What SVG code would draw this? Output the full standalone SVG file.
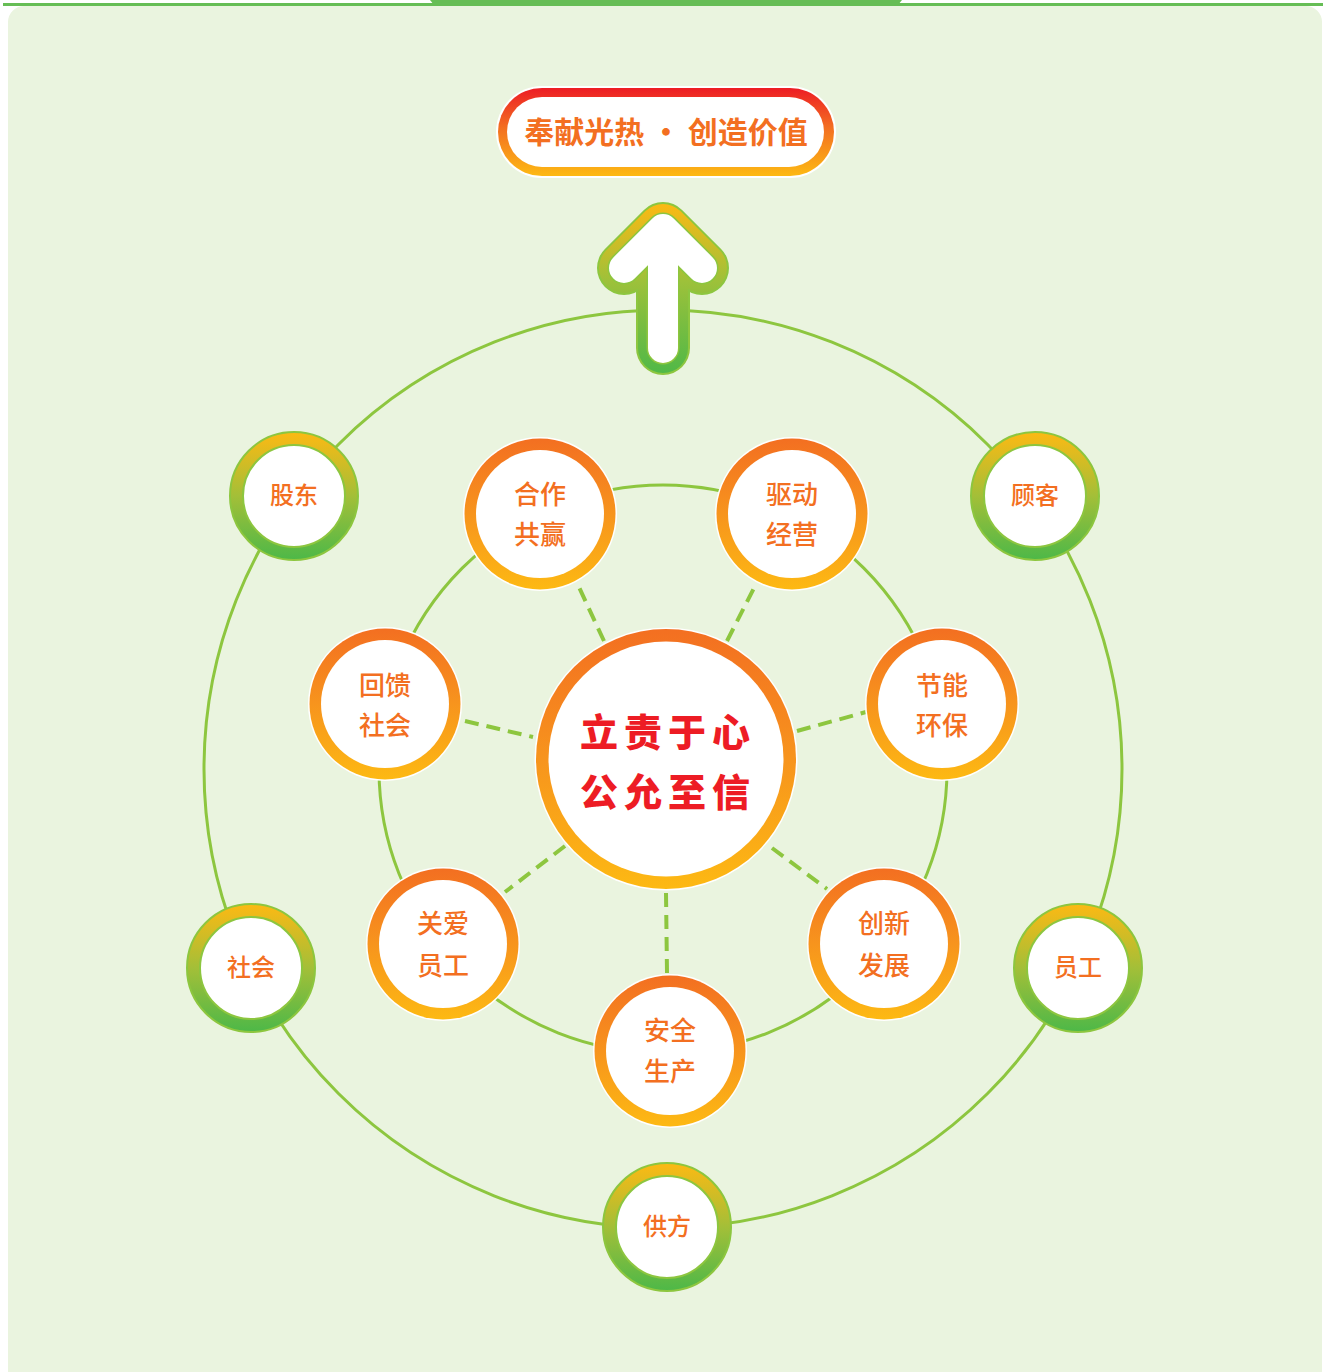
<svg xmlns="http://www.w3.org/2000/svg" width="1324" height="1372" viewBox="0 0 1324 1372">
<defs>
<linearGradient id="gOuter" x1="0" y1="0" x2="0" y2="1">
<stop offset="0" stop-color="#FDB913"/><stop offset="0.5" stop-color="#A3BF38"/><stop offset="1" stop-color="#4DB848"/>
</linearGradient>
<linearGradient id="gOrange" x1="0" y1="0" x2="0" y2="1">
<stop offset="0" stop-color="#F36F21"/><stop offset="0.5" stop-color="#F7941D"/><stop offset="1" stop-color="#FDB913"/>
</linearGradient>
<linearGradient id="gPill" x1="0" y1="0" x2="0" y2="1">
<stop offset="0" stop-color="#ED1C24"/><stop offset="0.45" stop-color="#F36F21"/><stop offset="1" stop-color="#FDB913"/>
</linearGradient>
<linearGradient id="gArrow" gradientUnits="userSpaceOnUse" x1="0" y1="203" x2="0" y2="377">
<stop offset="0" stop-color="#FDB913"/><stop offset="0.45" stop-color="#9DC13A"/><stop offset="1" stop-color="#4DB848"/>
</linearGradient>
<style>
.ring{fill:none;stroke:#8DC63F;stroke-width:3}
.dash{stroke:#8DC63F;stroke-width:4;stroke-dasharray:14 8;fill:none}
.on1{fill:url(#gOuter);stroke:#8DC63F;stroke-width:2}
.on2{fill:#fff;stroke:#8DC63F;stroke-width:2}
.in0{fill:#fff}
.in1{fill:url(#gOrange)}
.t{font-family:"Noto Sans CJK SC","Noto Sans",sans-serif;fill:#F36F21;text-anchor:middle;font-weight:500}
.to{font-size:24px}
.ti{font-size:26px}
</style>
</defs>
<rect x="8" y="6" width="1314" height="1380" rx="16" fill="#EAF4DF"/>
<rect x="3" y="3" width="1320" height="3" fill="#66BD55"/>
<path d="M430 0 H902 L898 5 Q896 6 892 6 H440 Q436 6 434 5 Z" fill="#66BD55"/>
<g id="connectors">
<circle class="ring" cx="663" cy="769" r="459"/>
<circle class="ring" cx="663" cy="769" r="284"/>
<line class="dash" x1="604" y1="641" x2="578" y2="585"/>
<line class="dash" x1="727" y1="641" x2="755" y2="586"/>
<line class="dash" x1="797" y1="731" x2="866" y2="712"/>
<line class="dash" x1="772" y1="848" x2="827" y2="889"/>
<line class="dash" x1="666" y1="893" x2="667" y2="973"/>
<line class="dash" x1="565" y1="846" x2="505" y2="892"/>
<line class="dash" x1="465" y1="721" x2="533" y2="737"/>
</g>
<g id="n-gudong"><circle class="on1" cx="294" cy="496" r="64"/><circle class="on2" cx="294" cy="496" r="51"/><text class="t to" x="294" y="504">股东</text></g>
<g id="n-guke"><circle class="on1" cx="1035" cy="496" r="64"/><circle class="on2" cx="1035" cy="496" r="51"/><text class="t to" x="1035" y="504">顾客</text></g>
<g id="n-shehui"><circle class="on1" cx="251" cy="968" r="64"/><circle class="on2" cx="251" cy="968" r="51"/><text class="t to" x="251" y="976">社会</text></g>
<g id="n-yuangong"><circle class="on1" cx="1078" cy="968" r="64"/><circle class="on2" cx="1078" cy="968" r="51"/><text class="t to" x="1078" y="976">员工</text></g>
<g id="n-gongfang"><circle class="on1" cx="667" cy="1227" r="64"/><circle class="on2" cx="667" cy="1227" r="51"/><text class="t to" x="667" y="1235">供方</text></g>
<g id="n-hezuo"><circle class="in0" cx="540" cy="514" r="77"/><circle class="in1" cx="540" cy="514" r="75.5"/><circle class="in0" cx="540" cy="514" r="64"/><text class="t ti" x="540" y="504">合作</text><text class="t ti" x="540" y="544">共赢</text></g>
<g id="n-qudong"><circle class="in0" cx="792" cy="514" r="77"/><circle class="in1" cx="792" cy="514" r="75.5"/><circle class="in0" cx="792" cy="514" r="64"/><text class="t ti" x="792" y="504">驱动</text><text class="t ti" x="792" y="544">经营</text></g>
<g id="n-jieneng"><circle class="in0" cx="942" cy="704" r="77"/><circle class="in1" cx="942" cy="704" r="75.5"/><circle class="in0" cx="942" cy="704" r="64"/><text class="t ti" x="942" y="695">节能</text><text class="t ti" x="942" y="735">环保</text></g>
<g id="n-chuangxin"><circle class="in0" cx="884" cy="944" r="77"/><circle class="in1" cx="884" cy="944" r="75.5"/><circle class="in0" cx="884" cy="944" r="64"/><text class="t ti" x="884" y="933">创新</text><text class="t ti" x="884" y="975">发展</text></g>
<g id="n-anquan"><circle class="in0" cx="670" cy="1051" r="77"/><circle class="in1" cx="670" cy="1051" r="75.5"/><circle class="in0" cx="670" cy="1051" r="64"/><text class="t ti" x="670" y="1040">安全</text><text class="t ti" x="670" y="1081">生产</text></g>
<g id="n-guanai"><circle class="in0" cx="443" cy="944" r="77"/><circle class="in1" cx="443" cy="944" r="75.5"/><circle class="in0" cx="443" cy="944" r="64"/><text class="t ti" x="443" y="933">关爱</text><text class="t ti" x="443" y="975">员工</text></g>
<g id="n-huikui"><circle class="in0" cx="385" cy="704" r="77"/><circle class="in1" cx="385" cy="704" r="75.5"/><circle class="in0" cx="385" cy="704" r="64"/><text class="t ti" x="385" y="695">回馈</text><text class="t ti" x="385" y="735">社会</text></g>
<g id="n-center"><circle class="in0" cx="666" cy="759" r="131.5"/><circle class="in1" cx="666" cy="759" r="130"/><circle class="in0" cx="666" cy="759" r="117.5"/>
<text x="668" y="746" font-family="'Noto Sans CJK SC',serif" font-size="38" font-weight="900" fill="#ED1C24" text-anchor="middle" letter-spacing="6">立责于心</text>
<text x="668" y="806" font-family="'Noto Sans CJK SC',serif" font-size="38" font-weight="900" fill="#ED1C24" text-anchor="middle" letter-spacing="6">公允至信</text></g>
<g id="n-arrow" fill="none" stroke-linecap="round" stroke-linejoin="round">
<path d="M624 268 L663 229 L702 268 M663 229 L663 348" stroke="#8DC63F" stroke-width="54"/>
<path d="M624 268 L663 229 L702 268 M663 229 L663 348" stroke="url(#gArrow)" stroke-width="50"/>
<path d="M624 268 L663 229 L702 268 M663 229 L663 348" stroke="#8DC63F" stroke-width="33"/>
<path d="M624 268 L663 229 L702 268 M663 229 L663 348" stroke="#fff" stroke-width="30"/>
</g>
<g id="n-title"><rect x="496" y="86" width="340" height="92" rx="46" fill="#fff"/><rect x="498" y="88" width="336" height="88" rx="44" fill="url(#gPill)"/><rect x="507" y="97" width="317" height="70" rx="35" fill="#fff"/>
<text class="t" x="666" y="143" font-size="30" font-weight="700" style="font-weight:700">奉献光热 · 创造价值</text></g>
</svg>
